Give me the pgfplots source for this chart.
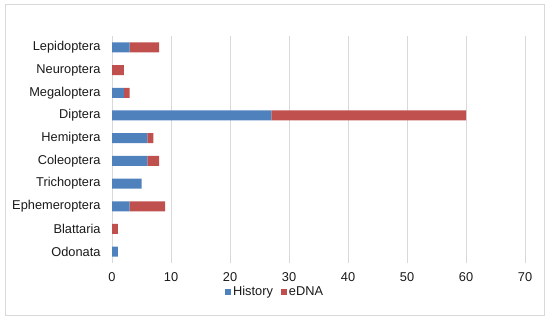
\documentclass[border=0pt]{standalone}
\usepackage{pgfplots}
\pgfplotsset{compat=1.18}
\usepackage{fontspec}
\setmainfont{Liberation Sans}
\definecolor{hist}{HTML}{4F81BD}
\definecolor{edna}{HTML}{C0504D}
\definecolor{gridc}{HTML}{D9D9D9}
\begin{document}
\begin{tikzpicture}[x=1bp,y=1bp]
\useasboundingbox (0,0) rectangle (550,322);
\draw[gridc,line width=1bp] (5,7) rectangle (544,317);
\begin{axis}[
  at={(112bp,59bp)}, anchor=south west,
  scale only axis, width=413bp, height=227bp,
  xbar stacked, bar width=10bp,
  xmin=0, xmax=70, xtick={0,10,...,70},
  ymin=-0.5, ymax=9.5, ytick={0,...,9},
  yticklabels={Odonata,Blattaria,Ephemeroptera,Trichoptera,Coleoptera,Hemiptera,Diptera,Megaloptera,Neuroptera,Lepidoptera},
  xmajorgrids, major grid style={gridc,line width=0.9bp},
  axis line style={draw=none},
  major tick length=0pt,
  /pgf/number format/assume math mode=true,
  tick label style={font=\fontsize{12.8bp}{15bp}\selectfont, text=black!90},
  yticklabel style={xshift=-8bp},
  xticklabel style={yshift=-6bp},
  legend style={at={(0.395,-0.128)}, anchor=center, draw=none, legend columns=2,
    font=\fontsize{12.8bp}{15bp}\selectfont, text=black!90,
    /tikz/every even column/.append style={column sep=6bp}},
  legend image code/.code={\draw[#1,draw=none] (0bp,-3bp) rectangle (6bp,3bp);},
]
\addplot[fill=hist, draw=none] coordinates {(1,0) (0,1) (3,2) (5,3) (6,4) (6,5) (27,6) (2,7) (0,8) (3,9)};
\addplot[fill=edna, draw=none] coordinates {(0,0) (1,1) (6,2) (0,3) (2,4) (1,5) (33,6) (1,7) (2,8) (5,9)};
\legend{History,eDNA}
\end{axis}
\end{tikzpicture}
\end{document}
